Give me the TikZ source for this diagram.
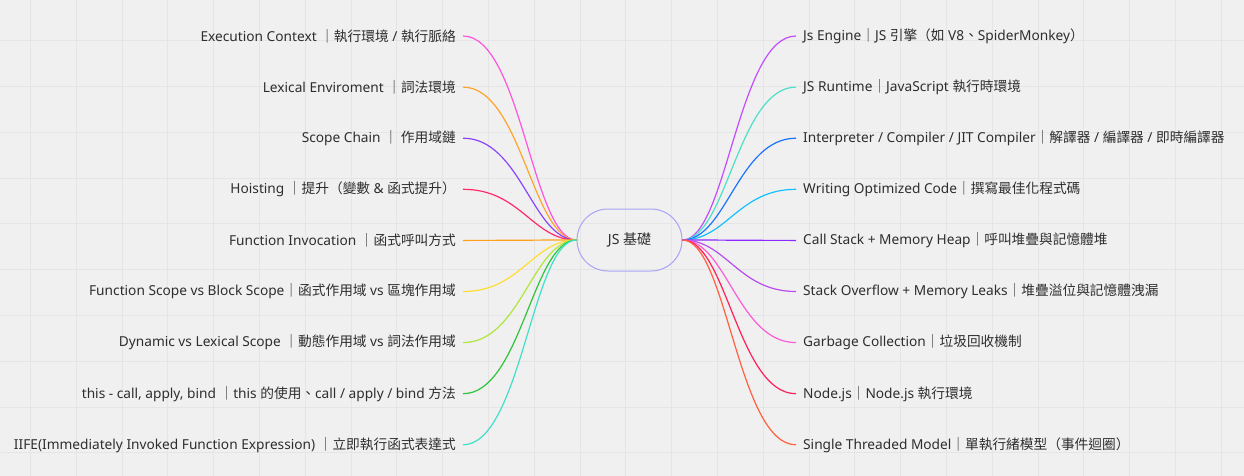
\documentclass[tikz,border=0pt]{standalone}
\usepackage{fontspec}
\setmainfont{Noto Sans}
\newfontfamily\zhfont{Noto Sans CJK TC}
\newcommand\zh[1]{{\zhfont #1}}

\definecolor{bggray}{HTML}{F0F0F0}
\definecolor{gridgray}{HTML}{E5E5E5}
\definecolor{textgray}{HTML}{2E2E2E}
\definecolor{rootline}{HTML}{A9A4F7}
% left branches
\definecolor{cLa}{HTML}{FF55DD}
\definecolor{cLb}{HTML}{FFA42A}
\definecolor{cLc}{HTML}{8A44FF}
\definecolor{cLd}{HTML}{FF2A6A}
\definecolor{cLe}{HTML}{FF9F1C}
\definecolor{cLf}{HTML}{FFDD33}
\definecolor{cLg}{HTML}{B0E63A}
\definecolor{cLh}{HTML}{2EC43C}
\definecolor{cLi}{HTML}{40E0C8}
% right branches
\definecolor{cRa}{HTML}{C24CFF}
\definecolor{cRb}{HTML}{4DE0C8}
\definecolor{cRc}{HTML}{1A73FF}
\definecolor{cRd}{HTML}{14C0FF}
\definecolor{cRe}{HTML}{8A2AFF}
\definecolor{cRf}{HTML}{B84CF0}
\definecolor{cRg}{HTML}{FF5AD8}
\definecolor{cRh}{HTML}{FF1F5A}
\definecolor{cRi}{HTML}{FF6040}

\tikzset{
  leaf/.style={font=\fontsize{13.7}{16}\selectfont, text=textgray, inner xsep=7pt, inner ysep=2pt},
  lleaf/.style={leaf, anchor=east},
  rleaf/.style={leaf, anchor=west},
  branch/.style={line width=1.2pt},
  gridline/.style={draw=gridgray, line width=1pt}
}

\begin{document}
\begin{tikzpicture}[x=1pt,y=-1pt]
\useasboundingbox (0,0) rectangle (1244,476);
\fill[bggray] (0,0) rectangle (1244,476);
% grid
\foreach \i in {0,...,26}
  \draw[gridline] (30.5+45.8*\i,0) -- (30.5+45.8*\i,476);
\foreach \j in {0,...,9}
  \draw[gridline] (0,40.7+45.8*\j) -- (1244,40.7+45.8*\j);

\node[draw=rootline, line width=1pt, rounded corners=31pt, minimum width=105pt, minimum height=62pt,
      font=\fontsize{14}{16}\selectfont, text=textgray] (root) at (629.5,240) {JS \zh{基礎}};

% left side
\node[lleaf] (la) at (463,36)    {Execution Context \zh{｜執行環境} / \zh{執行脈絡}};
\node[lleaf] (lb) at (463,87.1)  {Lexical Enviroment \zh{｜詞法環境}};
\node[lleaf] (lc) at (463,138.2) {Scope Chain \zh{｜ 作用域鏈}};
\node[lleaf] (ld) at (463,189.3) {Hoisting \zh{｜提升（變數} \& \zh{函式提升）}};
\node[lleaf] (le) at (463,240.4) {Function Invocation \zh{｜函式呼叫方式}};
\node[lleaf] (lf) at (463,291.5) {Function Scope vs Block Scope\zh{｜函式作用域} vs \zh{區塊作用域}};
\node[lleaf] (lg) at (463,342.6) {Dynamic vs Lexical Scope \zh{｜動態作用域} vs \zh{詞法作用域}};
\node[lleaf] (lh) at (463,393.7) {this - call, apply, bind \zh{｜}this \zh{的使用、}call / apply / bind \zh{方法}};
\node[lleaf] (li) at (463,444.8) {IIFE(Immediately Invoked Function Expression) \zh{｜立即執行函式表達式}};

% right side
\node[rleaf] (ra) at (796,36)    {Js Engine\zh{｜}JS \zh{引擎（如} V8\zh{、}SpiderMonkey\zh{）}};
\node[rleaf] (rb) at (796,87.1)  {JS Runtime\zh{｜}JavaScript \zh{執行時環境}};
\node[rleaf] (rc) at (796,138.2) {Interpreter / Compiler / JIT Compiler\zh{｜解譯器} / \zh{編譯器} / \zh{即時編譯器}};
\node[rleaf] (rd) at (796,189.3) {Writing Optimized Code\zh{｜撰寫最佳化程式碼}};
\node[rleaf] (re) at (796,240.4) {Call Stack + Memory Heap\zh{｜呼叫堆疊與記憶體堆}};
\node[rleaf] (rf) at (796,291.5) {Stack Overflow + Memory Leaks\zh{｜堆疊溢位與記憶體洩漏}};
\node[rleaf] (rg) at (796,342.6) {Garbage Collection\zh{｜垃圾回收機制}};
\node[rleaf] (rh) at (796,393.7) {Node.js\zh{｜}Node.js \zh{執行環境}};
\node[rleaf] (ri) at (796,444.8) {Single Threaded Model\zh{｜單執行緒模型（事件迴圈）}};

% branches
\foreach \n/\c in {la/cLa,lb/cLb,lc/cLc,ld/cLd,le/cLe,lf/cLf,lg/cLg,lh/cLh,li/cLi}
  \draw[branch,\c] (root.west) .. controls +(-44,0) and +(58,0) .. (\n.east);
\foreach \n/\c in {ra/cRa,rb/cRb,rc/cRc,rd/cRd,re/cRe,rf/cRf,rg/cRg,rh/cRh,ri/cRi}
  \draw[branch,\c] (root.east) .. controls +(44,0) and +(-58,0) .. (\n.west);
\end{tikzpicture}
\end{document}
